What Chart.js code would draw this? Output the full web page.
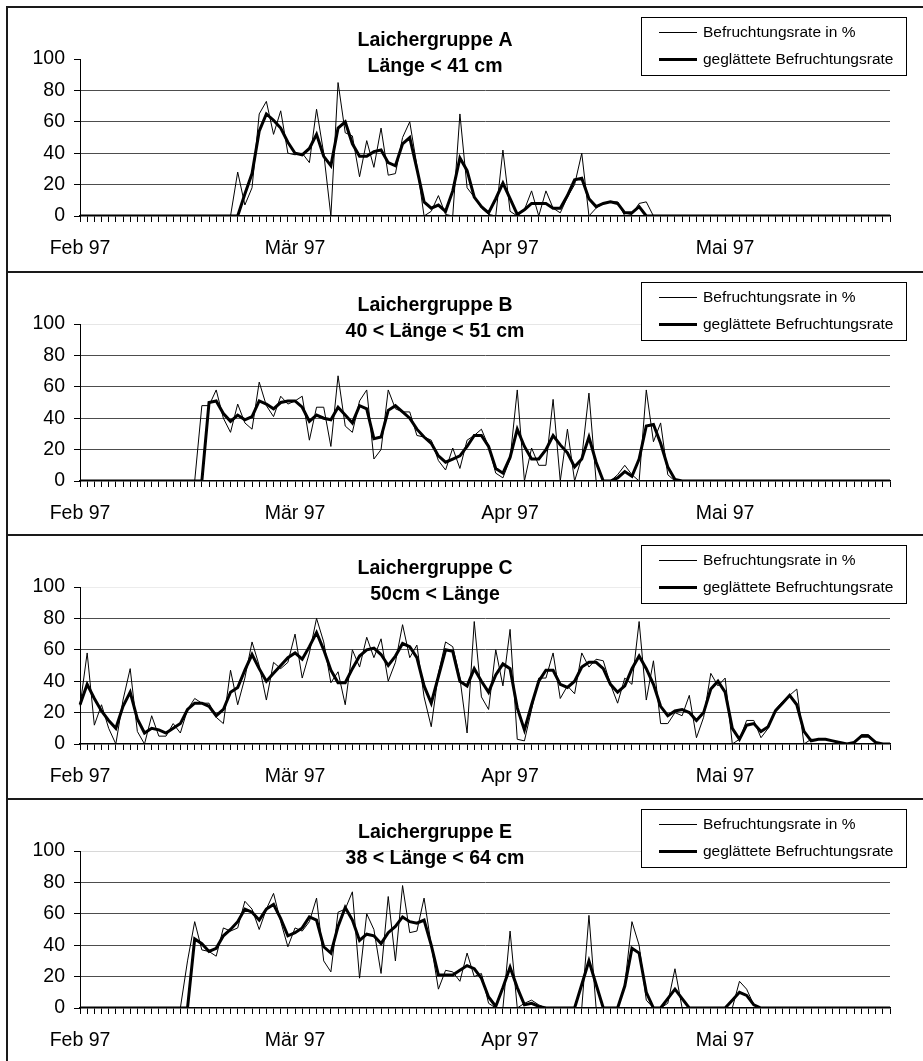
<!DOCTYPE html>
<html>
<head>
<meta charset="utf-8">
<script src="https://cdn.jsdelivr.net/npm/chart.js@4.4.1/dist/chart.umd.min.js"></script>
<style>
    html, body { margin: 0; padding: 0; background: #fff; }
    body { width: 923px; height: 1061px; overflow: hidden; position: relative; }
    .hline { position: absolute; left: 6px; width: 917px; height: 2px; background: #1a1a1a; }
    .vline { position: absolute; left: 6px; top: 6px; width: 2px; height: 1055px; background: #1a1a1a; }
    canvas { position: absolute; left: 0; }
</style>
</head>
<body>
<div class="vline"></div>
<div class="hline" style="top:6px"></div>
<div class="hline" style="top:271px"></div>
<div class="hline" style="top:534px"></div>
<div class="hline" style="top:798px"></div>
<canvas id="chartA" width="923" height="264" style="top:7px"></canvas>
<canvas id="chartB" width="923" height="264" style="top:272px"></canvas>
<canvas id="chartC" width="923" height="264" style="top:535px"></canvas>
<canvas id="chartE" width="923" height="264" style="top:799px"></canvas>
<script>
// Befruchtungsrate - vier Laichergruppen, Feb bis Mai 97

// Categories: one per day, month label every 30 categories
const dayCount = 114;
const tickLabels = ['Feb 97', 'Mär 97', 'Apr 97', 'Mai 97'];
const tickEvery = 30;
const categories = Array.from({ length: dayCount }, (_, i) => 'Tag ' + (i + 1));

const legendLabels = ['Befruchtungsrate in %', 'geglättete Befruchtungsrate'];

// Gruppe A
const rawA = [
    0, 0, 0, 0, 0, 0, 0, 0, 0, 0,
    0, 0, 0, 0, 0, 0, 0, 0, 0, 0,
    0, 0, 28, 7, 18, 65, 73, 52, 67, 40,
    39, 40, 34, 68, 40, 0, 85, 53, 51, 25,
    48, 31, 56, 26, 27, 50, 60, 32, 0, 3,
    13, 1, 0, 65, 18, 12, 5, 1, 0, 42,
    3, 0, 4, 16, 0, 16, 5, 2, 12, 20,
    40, 0, 5, 8, 9, 9, 0, 1, 8, 9,
    0, 0, 0, 0, 0, 0, 0, 0, 0, 0,
    0, 0, 0, 0, 0, 0, 0, 0, 0, 0,
    0, 0, 0, 0, 0, 0, 0, 0, 0, 0,
    0, 0, 0, 0
];
const smoothA = [
    0, 0, 0, 0, 0, 0, 0, 0, 0, 0,
    0, 0, 0, 0, 0, 0, 0, 0, 0, 0,
    0, 0, 0, 14, 27, 54, 65, 61, 56, 47,
    40, 39, 43, 52, 38, 32, 56, 60, 46, 38,
    38, 41, 42, 34, 32, 46, 50, 30, 9, 5,
    7, 3, 16, 37, 29, 12, 6, 2, 11, 21,
    11, 1, 4, 8, 8, 8, 5, 5, 13, 23,
    24, 11, 6, 8, 9, 8, 2, 2, 6, 0,
    0, 0, 0, 0, 0, 0, 0, 0, 0, 0,
    0, 0, 0, 0, 0, 0, 0, 0, 0, 0,
    0, 0, 0, 0, 0, 0, 0, 0, 0, 0,
    0, 0, 0, 0
];

// Gruppe B
const rawB = [
    0, 0, 0, 0, 0, 0, 0, 0, 0, 0,
    0, 0, 0, 0, 0, 0, 0, 48, 48, 58,
    40, 31, 49, 37, 33, 63, 48, 41, 54, 49,
    51, 54, 26, 47, 47, 22, 67, 35, 31, 51,
    58, 14, 20, 58, 46, 44, 44, 29, 28, 26,
    13, 7, 21, 8, 26, 29, 33, 22, 5, 2,
    14, 58, 0, 21, 10, 10, 52, 0, 33, 0,
    15, 56, 0, 0, 0, 4, 10, 4, 0, 58,
    25, 37, 4, 0, 0, 0, 0, 0, 0, 0,
    0, 0, 0, 0, 0, 0, 0, 0, 0, 0,
    0, 0, 0, 0, 0, 0, 0, 0, 0, 0,
    0, 0, 0, 0
];
const smoothB = [
    0, 0, 0, 0, 0, 0, 0, 0, 0, 0,
    0, 0, 0, 0, 0, 0, 0, 0, 50, 51,
    43, 38, 42, 39, 41, 51, 49, 46, 50, 51,
    51, 47, 38, 42, 40, 39, 47, 42, 37, 48,
    46, 27, 28, 45, 48, 44, 40, 33, 28, 24,
    16, 12, 14, 16, 22, 29, 29, 22, 8, 5,
    15, 33, 22, 14, 14, 20, 29, 23, 18, 9,
    14, 28, 12, 0, 0, 2, 6, 3, 14, 35,
    36, 24, 9, 1, 0, 0, 0, 0, 0, 0,
    0, 0, 0, 0, 0, 0, 0, 0, 0, 0,
    0, 0, 0, 0, 0, 0, 0, 0, 0, 0,
    0, 0, 0, 0
];

// Gruppe C
const rawC = [
    24, 58, 12, 25, 10, 0, 28, 48, 8, 0,
    18, 5, 5, 13, 7, 22, 29, 26, 26, 17,
    13, 47, 25, 42, 65, 50, 28, 52, 48, 52,
    70, 42, 58, 80, 65, 39, 46, 25, 60, 49,
    68, 55, 67, 40, 52, 76, 55, 63, 30, 11,
    45, 65, 62, 42, 7, 78, 30, 22, 60, 37,
    73, 3, 2, 22, 42, 42, 58, 29, 37, 32,
    58, 49, 54, 53, 38, 26, 42, 38, 78, 28,
    53, 13, 13, 20, 18, 31, 4, 17, 45, 37,
    42, 0, 3, 15, 15, 4, 10, 22, 27, 31,
    35, 0, 3, 3, 3, 2, 0, 0, 1, 6,
    6, 1, 0, 0
];
const smoothC = [
    25, 38, 29, 21, 15, 10, 24, 33, 16, 7,
    10, 9, 7, 10, 13, 22, 26, 26, 24, 18,
    22, 33, 36, 47, 57, 48, 40, 45, 50, 55,
    58, 54, 62, 71, 60, 47, 39, 39, 48, 56,
    60, 61, 57, 50, 56, 64, 62, 55, 37, 26,
    43, 60, 59, 40, 37, 48, 40, 33, 44, 51,
    48, 23, 9, 25, 40, 47, 47, 38, 36, 40,
    49, 52, 52, 48, 38, 33, 37, 48, 56, 48,
    38, 24, 18, 21, 22, 20, 15, 20, 35, 40,
    33, 10, 3, 12, 13, 8, 11, 21, 26, 31,
    25, 8, 2, 3, 3, 2, 1, 0, 1, 5,
    5, 1, 0, 0
];

// Gruppe E
const rawE = [
    0, 0, 0, 0, 0, 0, 0, 0, 0, 0,
    0, 0, 0, 0, 0, 30, 55, 37, 36, 33,
    51, 49, 51, 68, 63, 50, 63, 73, 55, 39,
    51, 49, 55, 70, 30, 23, 61, 63, 74, 19,
    60, 50, 22, 71, 30, 78, 48, 49, 70, 40,
    12, 24, 23, 17, 35, 20, 22, 3, 0, 0,
    49, 0, 3, 5, 2, 0, 0, 0, 0, 0,
    0, 59, 0, 0, 0, 0, 15, 55, 40, 5,
    0, 0, 3, 25, 0, 0, 0, 0, 0, 0,
    0, 0, 17, 12, 2, 0, 0, 0, 0, 0,
    0, 0, 0, 0, 0, 0, 0, 0, 0, 0,
    0, 0, 0, 0
];
const smoothE = [
    0, 0, 0, 0, 0, 0, 0, 0, 0, 0,
    0, 0, 0, 0, 0, 0, 44, 41, 36, 38,
    46, 50, 55, 63, 61, 56, 63, 66, 57, 46,
    48, 51, 58, 56, 39, 35, 52, 64, 56, 43,
    47, 46, 41, 48, 52, 58, 55, 54, 56, 40,
    21, 21, 21, 24, 27, 25, 19, 7, 1, 13,
    26, 13, 2, 3, 1, 0, 0, 0, 0, 0,
    15, 30, 15, 0, 0, 0, 14, 38, 35, 10,
    0, 0, 6, 12, 6, 0, 0, 0, 0, 0,
    0, 5, 10, 8, 2, 0, 0, 0, 0, 0,
    0, 0, 0, 0, 0, 0, 0, 0, 0, 0,
    0, 0, 0, 0
];

const fontFamily = "'Liberation Sans', Arial, sans-serif";

// Title (two lines) and boxed legend drawn into each panel
const decorPlugin = {
    id: 'decor',
    afterDraw(chart, args, opts) {
        const ctx = chart.ctx;
        ctx.save();
        // title
        ctx.fillStyle = '#000';
        ctx.textAlign = 'center';
        ctx.textBaseline = 'middle';
        ctx.font = `bold 19.5px ${fontFamily}`;
        ctx.fillText(opts.title[0], 435, 34);
        ctx.fillText(opts.title[1], 435, 60);

        // legend box
        ctx.fillStyle = '#fff';
        ctx.fillRect(641, 10, 266, 59);
        ctx.strokeStyle = '#000';
        ctx.lineWidth = 1;
        ctx.strokeRect(641.5, 10.5, 265, 58);

        ctx.beginPath();
        ctx.lineWidth = 1;
        ctx.moveTo(659, 25.5);
        ctx.lineTo(697, 25.5);
        ctx.stroke();
        ctx.beginPath();
        ctx.lineWidth = 3;
        ctx.moveTo(659, 52.5);
        ctx.lineTo(697, 52.5);
        ctx.stroke();

        ctx.fillStyle = '#000';
        ctx.textAlign = 'left';
        ctx.font = `15.5px ${fontFamily}`;
        ctx.fillText(legendLabels[0], 703, 26);
        ctx.fillText(legendLabels[1], 703, 53);
        ctx.restore();
    }
};

function createPanel(canvasId, rawData, smoothData, title, topGrid) {
    const ctx = document.getElementById(canvasId);
    if (!ctx) return;

    new Chart(ctx, {
        type: 'line',
        data: {
            labels: categories,
            datasets: [
                {
                    label: legendLabels[0],
                    data: rawData,
                    borderColor: '#000',
                    borderWidth: 1,
                    pointRadius: 0,
                    tension: 0,
                    fill: false
                },
                {
                    label: legendLabels[1],
                    data: smoothData,
                    borderColor: '#000',
                    borderWidth: 3,
                    pointRadius: 0,
                    tension: 0,
                    fill: false
                }
            ]
        },
        plugins: [decorPlugin],
        options: {
            responsive: false,
            animation: false,
            events: [],
            layout: {
                padding: { top: 52, right: 33, bottom: 0, left: 0 }
            },
            plugins: {
                legend: { display: false },
                tooltip: { enabled: false },
                title: { display: false },
                decor: { title: title }
            },
            scales: {
                x: {
                    type: 'category',
                    afterFit: (scale) => { scale.height = 55; },
                    border: { color: '#000', width: 1.5 },
                    grid: {
                        display: true,
                        drawOnChartArea: false,
                        drawTicks: true,
                        tickLength: 6,
                        color: '#000'
                    },
                    ticks: {
                        autoSkip: false,
                        minRotation: 0,
                        maxRotation: 0,
                        padding: 15,
                        color: '#000',
                        font: { family: fontFamily, size: 19.5 },
                        callback: (value, index) => index % tickEvery === 0 ? tickLabels[index / tickEvery] : ''
                    }
                },
                y: {
                    min: 0,
                    max: 100,
                    afterFit: (scale) => { scale.width = 80; },
                    border: { color: '#000', width: 1 },
                    grid: {
                        drawTicks: true,
                        tickLength: 6,
                        tickColor: '#000',
                        color: (c) => {
                            if (c.tick.value === 0) return 'rgba(0,0,0,0)';
                            if (c.tick.value === 100) return topGrid;
                            return '#4d4d4d';
                        }
                    },
                    ticks: {
                        stepSize: 20,
                        padding: 9,
                        color: '#000',
                        font: { family: fontFamily, size: 19.5 }
                    }
                }
            }
        }
    });
}

createPanel('chartA', rawA, smoothA, ['Laichergruppe A', 'Länge < 41 cm'], 'rgba(0,0,0,0)');
createPanel('chartB', rawB, smoothB, ['Laichergruppe B', '40 < Länge < 51 cm'], '#e6e6e6');
createPanel('chartC', rawC, smoothC, ['Laichergruppe C', '50cm < Länge'], '#ececec');
createPanel('chartE', rawE, smoothE, ['Laichergruppe E', '38 < Länge < 64 cm'], '#d8d8d8');
</script>
</body>
</html>
